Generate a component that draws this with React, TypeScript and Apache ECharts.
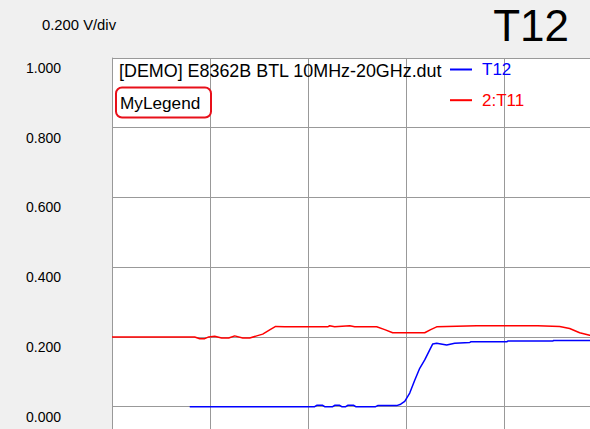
import React, { useEffect, useRef } from "react";
import * as echarts from "echarts";

// T12 trace (x in divisions, y in volts)
const t12X = [0.793, 2.068, 2.089, 2.150, 2.170, 2.252, 2.272, 2.323, 2.344, 2.385, 2.405, 2.467, 2.487, 2.690, 2.711, 2.905, 2.946, 2.987, 3.038, 3.089, 3.140, 3.191, 3.242, 3.273, 3.313, 3.415, 3.497, 3.650, 3.660, 4.028, 4.038, 4.497, 4.507, 4.874, 5.0];
const t12Y = [0.000, 0.000, 0.004, 0.004, 0.000, 0.000, 0.004, 0.004, 0.000, 0.000, 0.004, 0.004, 0.000, 0.000, 0.003, 0.003, 0.007, 0.015, 0.039, 0.076, 0.110, 0.134, 0.163, 0.180, 0.182, 0.177, 0.182, 0.184, 0.186, 0.186, 0.188, 0.188, 0.190, 0.190, 0.190];

// 2:T11 trace
const t11X = [0, 0.844, 0.895, 0.946, 0.987, 1.048, 1.119, 1.191, 1.252, 1.334, 1.405, 1.477, 1.538, 1.609, 1.670, 1.762, 2.201, 2.221, 2.272, 2.426, 2.477, 2.701, 2.783, 2.864, 3.191, 3.252, 3.313, 3.721, 4.344, 4.568, 4.670, 4.772, 4.874, 5.0];
const t11Y = [0.200, 0.200, 0.195, 0.195, 0.200, 0.202, 0.197, 0.197, 0.203, 0.197, 0.197, 0.203, 0.208, 0.220, 0.230, 0.229, 0.229, 0.232, 0.229, 0.232, 0.229, 0.229, 0.221, 0.212, 0.212, 0.221, 0.229, 0.232, 0.232, 0.230, 0.224, 0.212, 0.205, 0.200];

const seriesNames = ["T12", "2:T11"];
const seriesColors = ["#0000ff", "#ff0000"];
const scaleText = "0.200 V/div";
const traceTitle = "T12";
const dutText = "[DEMO] E8362B BTL 10MHz-20GHz.dut";
const boxText = "MyLegend";

const FONT = "'Liberation Sans', Arial, sans-serif";

export default function App() {
  const ref = useRef<HTMLDivElement>(null);
  useEffect(() => {
    if (!ref.current) return;
    const chart = echarts.init(ref.current, null, { renderer: "svg" });
    const pairs = (xs: number[], ys: number[]) => xs.map((x, i) => [x, ys[i]]);
    chart.setOption({
      animation: false,
      backgroundColor: "#f0f0f0",
      textStyle: { fontFamily: FONT },
      title: [
        {
          text: scaleText, left: 42, top: 16, padding: 0,
          textStyle: { fontSize: 14.8, fontWeight: "normal", color: "#000", lineHeight: 18, fontFamily: FONT },
        },
        {
          text: traceTitle, right: 21, top: 0, padding: 0,
          textStyle: { fontSize: 44, fontWeight: "normal", color: "#000", lineHeight: 50, fontFamily: FONT },
        },
        {
          text: dutText, left: 119, top: 61, padding: 0,
          textStyle: { fontSize: 17.9, fontWeight: "normal", color: "#000", lineHeight: 20, fontFamily: FONT },
        },
        {
          text: boxText, left: 116, top: 87.5, padding: [5, 11, 5, 4],
          borderColor: "#e8101a", borderWidth: 2, borderRadius: 6,
          textStyle: { fontSize: 17.2, fontWeight: "normal", color: "#000", lineHeight: 20, fontFamily: FONT },
        },
      ],
      legend: {
        orient: "vertical",
        left: 450,
        top: 59.5,
        padding: 0,
        icon: "rect",
        itemWidth: 22,
        itemHeight: 2,
        itemGap: 10.7,
        textStyle: { fontSize: 17, lineHeight: 20, padding: [0, 0, 0, 5], fontFamily: FONT },
        data: seriesNames.map((n, i) => ({ name: n, textStyle: { color: seriesColors[i] } })),
      },
      grid: {
        left: 112, top: 58, width: 490, height: 418.4,
        outerBoundsMode: "none",
        show: true, backgroundColor: "#ffffff", borderWidth: 0,
        containLabel: false,
      },
      xAxis: {
        type: "value", min: 0, max: 5, interval: 1,
        axisLine: { show: false }, axisTick: { show: false }, axisLabel: { show: false },
        splitLine: { show: true, lineStyle: { color: "#999999", width: 1 } },
      },
      yAxis: {
        type: "value", min: -0.2, max: 1.0, interval: 0.2,
        axisLine: { show: true, lineStyle: { color: "#999999", width: 1 } },
        axisTick: { show: false },
        splitLine: { show: true, lineStyle: { color: "#999999", width: 1 } },
        axisLabel: {
          show: true, showMinLabel: false, margin: 51, align: "right", verticalAlign: "top",
          lineHeight: 20, fontSize: 14, color: "#000", fontFamily: FONT,
          formatter: (v: number) => (v < 0 ? "" : v.toFixed(3)),
        },
      },
      series: [
        {
          name: seriesNames[0], type: "line", showSymbol: false, symbol: "none",
          data: pairs(t12X, t12Y), color: seriesColors[0],
          lineStyle: { color: seriesColors[0], width: 1.5 },
        },
        {
          name: seriesNames[1], type: "line", showSymbol: false, symbol: "none",
          data: pairs(t11X, t11Y), color: seriesColors[1],
          lineStyle: { color: seriesColors[1], width: 1.5 },
        },
      ],
    });
    return () => chart.dispose();
  }, []);
  return <div ref={ref} style={{ position: "fixed", left: 0, top: 0, width: 590, height: 429 }} />;
}
